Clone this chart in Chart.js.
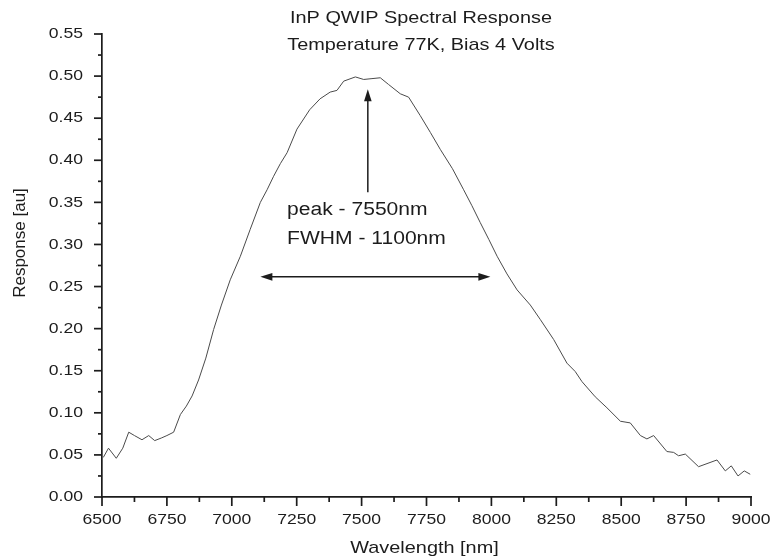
<!DOCTYPE html>
<html>
<head>
<meta charset="utf-8">
<title>InP QWIP Spectral Response</title>
<script src="https://cdn.jsdelivr.net/npm/chart.js@4.4.1/dist/chart.umd.min.js"></script>
<style>
  html, body { margin: 0; padding: 0; background: #fff; }
  #wrap { width: 770px; height: 558px; }
</style>
</head>
<body>
<div id="wrap"><canvas id="chart"></canvas></div>
<script>
// measured spectrum (nm, arbitrary units)
const wavelengths = [
  6505, 6525, 6555, 6580, 6603, 6625, 6654, 6680, 6703, 6728,
  6750, 6776, 6802, 6825, 6847, 6872, 6900, 6930, 6960, 6994,
  7033, 7071, 7110, 7136, 7161, 7187, 7213, 7251, 7300, 7340,
  7379, 7405, 7431, 7476, 7508, 7540, 7572, 7604, 7649, 7681,
  7726, 7765, 7803, 7850, 7893, 7925, 7957, 7990, 8022, 8060,
  8099, 8150, 8188, 8240, 8291, 8323, 8349, 8400, 8445, 8497,
  8535, 8574, 8599, 8625, 8676, 8702, 8721, 8747, 8798, 8869,
  8901, 8924, 8950, 8974, 8997
];
const response = [
  0.047, 0.058, 0.046, 0.058, 0.077, 0.073, 0.068, 0.073, 0.067, 0.070,
  0.073, 0.077, 0.098, 0.108, 0.120, 0.139, 0.165, 0.199, 0.228, 0.258,
  0.286, 0.318, 0.350, 0.365, 0.381, 0.396, 0.409, 0.437, 0.460, 0.473,
  0.481, 0.483, 0.494, 0.499, 0.496, 0.497, 0.498, 0.490, 0.479, 0.475,
  0.453, 0.433, 0.413, 0.390, 0.365, 0.346, 0.326, 0.306, 0.286, 0.265,
  0.246, 0.228, 0.211, 0.187, 0.159, 0.149, 0.137, 0.119, 0.106, 0.090,
  0.088, 0.073, 0.069, 0.073, 0.054, 0.053, 0.049, 0.051, 0.036, 0.044,
  0.031, 0.037, 0.025, 0.031, 0.027
];

const xTickLabels = ['6500', '6750', '7000', '7250', '7500', '7750', '8000', '8250', '8500', '8750', '9000'];
const yTickLabels = ['0.00', '0.05', '0.10', '0.15', '0.20', '0.25', '0.30', '0.35', '0.40', '0.45', '0.50', '0.55'];

const titleLines = ['InP QWIP Spectral Response', 'Temperature 77K, Bias 4 Volts'];
const noteLines = ['peak - 7550nm', 'FWHM - 1100nm'];

// annotation anchors in data units
const peakArrow = { x: 7524, from: 0.362, to: 0.4845 };
const fwhmArrow = { y: 0.2615, from: 7110, to: 7996 };
const noteAnchor = { x: 7213, y: [0.341, 0.307] };

const FONT = '"Liberation Sans", Arial, sans-serif';
const SX = 1.17;   // text in the source is a bit wide
const INK = '#1c1c1c';

function wideText(ctx, text, px, py, align, size) {
  ctx.save();
  ctx.translate(px, py);
  ctx.scale(SX, 1);
  ctx.font = size + 'px ' + FONT;
  ctx.textAlign = align;
  ctx.textBaseline = 'middle';
  ctx.fillStyle = INK;
  ctx.fillText(text, 0, 0);
  ctx.restore();
}

function seg(ctx, x1, y1, x2, y2) {
  ctx.beginPath();
  ctx.moveTo(x1, y1);
  ctx.lineTo(x2, y2);
  ctx.stroke();
}

function head(ctx, tx, ty, dx, dy) {
  // filled arrowhead pointing along (dx, dy)
  const len = 12, half = 3.8;
  const bx = tx - dx * len, by = ty - dy * len;
  ctx.beginPath();
  ctx.moveTo(tx, ty);
  ctx.lineTo(bx - dy * half, by + dx * half);
  ctx.lineTo(bx + dy * half, by - dx * half);
  ctx.closePath();
  ctx.fill();
}

const decor = {
  id: 'decor',
  afterDraw(chart) {
    const { ctx, chartArea, scales } = chart;
    const x = scales.x, y = scales.y;
    const left = chartArea.left, bottom = chartArea.bottom;
    ctx.save();
    ctx.strokeStyle = INK;
    ctx.lineWidth = 1.7;

    // axis ticks, majors labelled, minors halfway between
    xTickLabels.forEach((lab, i) => {
      const v = Number(lab);
      const px = x.getPixelForValue(v);
      seg(ctx, px, bottom, px, bottom + 9);
      if (i < xTickLabels.length - 1) {
        const mx = x.getPixelForValue((v + Number(xTickLabels[i + 1])) / 2);
        seg(ctx, mx, bottom, mx, bottom + 5);
      }
      wideText(ctx, lab, px, bottom + 23, 'center', 15);
    });
    yTickLabels.forEach((lab, i) => {
      const v = Number(lab);
      const py = y.getPixelForValue(v);
      seg(ctx, left, py, left - 8, py);
      if (i < yTickLabels.length - 1) {
        const my = y.getPixelForValue((v + Number(yTickLabels[i + 1])) / 2);
        seg(ctx, left, my, left - 4, my);
      }
      wideText(ctx, lab, left - 19, py, 'right', 15);
    });

    // axis titles
    wideText(ctx, 'Wavelength [nm]', (left + chartArea.right) / 2 - 2, 548, 'center', 17);
    ctx.save();
    ctx.translate(20, 243);
    ctx.rotate(-Math.PI / 2);
    ctx.font = '17px ' + FONT;
    ctx.textAlign = 'center';
    ctx.textBaseline = 'middle';
    ctx.fillStyle = INK;
    ctx.fillText('Response [au]', 0, 0);
    ctx.restore();

    // chart title
    wideText(ctx, titleLines[0], 421, 18, 'center', 17);
    wideText(ctx, titleLines[1], 421, 45, 'center', 17);

    // peak and FWHM arrows
    ctx.fillStyle = INK;
    ctx.lineWidth = 1.5;
    const ax = x.getPixelForValue(peakArrow.x);
    const ay1 = y.getPixelForValue(peakArrow.from);
    const ay2 = y.getPixelForValue(peakArrow.to);
    seg(ctx, ax, ay1, ax, ay2 + 8);
    head(ctx, ax, ay2, 0, -1);

    const hy = y.getPixelForValue(fwhmArrow.y);
    const hx1 = x.getPixelForValue(fwhmArrow.from);
    const hx2 = x.getPixelForValue(fwhmArrow.to);
    seg(ctx, hx1 + 8, hy, hx2 - 8, hy);
    head(ctx, hx1, hy, -1, 0);
    head(ctx, hx2, hy, 1, 0);

    const nx = x.getPixelForValue(noteAnchor.x);
    noteLines.forEach((t, i) => {
      wideText(ctx, t, nx, y.getPixelForValue(noteAnchor.y[i]), 'left', 18);
    });
    ctx.restore();
  }
};

const points = wavelengths.map((w, i) => ({ x: w, y: response[i] }));

new Chart(document.getElementById('chart'), {
  type: 'line',
  data: {
    datasets: [{
      data: points,
      borderColor: '#4a4a4a',
      borderWidth: 1,
      pointRadius: 0,
      tension: 0,
      fill: false
    }]
  },
  options: {
    responsive: true,
    maintainAspectRatio: false,
    animation: false,
    events: [],
    layout: { padding: { left: 0, right: 19, top: 34, bottom: 0 } },
    plugins: {
      legend: { display: false },
      tooltip: { enabled: false },
      title: { display: false }
    },
    scales: {
      x: {
        type: 'linear',
        min: 6500,
        max: 9000,
        grid: { display: false },
        border: { display: true, color: INK, width: 1.7 },
        ticks: { display: false },
        afterFit(axis) { axis.height = 61; }
      },
      y: {
        min: 0,
        max: 0.55,
        grid: { display: false },
        border: { display: true, color: INK, width: 1.7 },
        ticks: { display: false },
        afterFit(axis) { axis.width = 102; }
      }
    }
  },
  plugins: [decor]
});
</script>
</body>
</html>
